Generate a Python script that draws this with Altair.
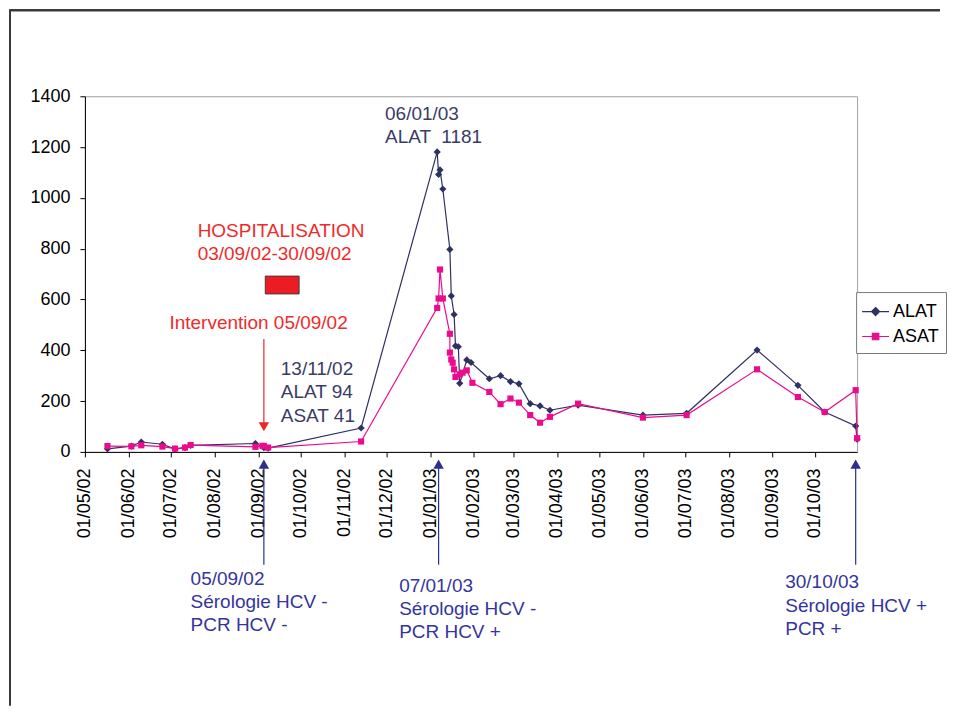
import altair as alt
import pandas as pd

# ---------------- data ----------------
alat_dates = ["2002-05-17", "2002-06-03", "2002-06-10", "2002-06-25", "2002-07-04", "2002-07-11",
              "2002-07-15", "2002-08-30", "2002-09-04", "2002-09-05", "2002-09-08", "2002-11-13",
              "2003-01-06", "2003-01-07", "2003-01-08", "2003-01-10", "2003-01-15", "2003-01-16",
              "2003-01-18", "2003-01-19", "2003-01-21", "2003-01-22", "2003-01-27", "2003-01-30",
              "2003-02-12", "2003-02-20", "2003-02-27", "2003-03-05", "2003-03-13", "2003-03-20",
              "2003-03-27", "2003-04-16", "2003-06-01", "2003-07-02", "2003-08-21", "2003-09-19",
              "2003-10-08", "2003-10-30", "2003-10-31"]
alat_values = [12, 23, 39, 30, 11, 17, 26, 33, 22, 17, 15, 94,
               1181, 1092, 1110, 1035, 797, 614, 541, 417, 414, 270, 362, 352,
               288, 300, 277, 268, 190, 181, 164, 184, 145, 152, 401, 262, 157, 102, 50]

asat_dates = ["2002-05-17", "2002-06-03", "2002-06-10", "2002-06-25", "2002-07-04", "2002-07-11",
              "2002-07-15", "2002-08-30", "2002-09-04", "2002-09-05", "2002-09-08", "2002-11-13",
              "2003-01-06", "2003-01-07", "2003-01-08", "2003-01-10", "2003-01-15", "2003-01-15",
              "2003-01-16", "2003-01-17", "2003-01-18", "2003-01-19", "2003-01-22", "2003-01-24",
              "2003-01-27", "2003-01-31", "2003-02-12", "2003-02-20", "2003-02-27", "2003-03-05",
              "2003-03-13", "2003-03-20", "2003-03-27", "2003-04-16", "2003-06-01", "2003-07-02",
              "2003-08-21", "2003-09-19", "2003-10-08", "2003-10-30", "2003-10-31"]
asat_values = [23, 22, 26, 21, 13, 17, 27, 20, 24, 23, 17, 41,
               567, 604, 718, 604, 465, 391, 364, 351, 325, 295, 305, 312, 321, 272,
               236, 188, 210, 194, 145, 115, 138, 190, 135, 145, 325, 216, 157, 243, 54]

series_names = ["ALAT", "ASAT"]
series_colors = ["#2e3163", "#ec0b8d"]

month_ticks = [(2002, m) for m in range(5, 13)] + [(2003, m) for m in range(1, 11)]
y_ticks = [0, 200, 400, 600, 800, 1000, 1200, 1400]

# annotations (positions in data space)
navy_texts = ["06/01/03", "ALAT \u00a01181", "13/11/02", "ALAT 94", "ASAT 41"]
navy_dates = ["2002-11-30", "2002-11-30", "2002-09-17", "2002-09-17", "2002-09-17"]
navy_values = [1330, 1241, 328, 235, 142]

red_texts = ["HOSPITALISATION", "03/09/02-30/09/02", "Intervention 05/09/02"]
red_dates = ["2002-07-20", "2002-07-20", "2002-06-30"]
red_values = [870, 780, 508]

blue_texts = ["05/09/02", "Sérologie HCV -", "PCR HCV -",
              "07/01/03", "Sérologie HCV -", "PCR HCV +",
              "30/10/03", "Sérologie HCV +", "PCR +"]
blue_dates = ["2002-07-15"] * 3 + ["2002-12-10"] * 3 + ["2003-09-10"] * 3
blue_values = [-499, -590, -680, -527, -617, -708, -514, -605, -699]

hosp_box_start = ["2002-09-06"]
hosp_box_end = ["2002-09-30"]
hosp_box_low = [622]
hosp_box_high = [692]

red_arrow_dates = ["2002-09-05"]
red_arrow_top = [444]
red_arrow_bottom = [110]
red_arrow_head = [99]

blue_arrow_dates = ["2002-09-05", "2003-01-07", "2003-10-30"]
blue_arrow_top = [-48, -48, -48]
blue_arrow_bottom = [-444, -444, -444]

# ---------------- tables ----------------
rows = []
for i, (d, v) in enumerate(zip(alat_dates, alat_values)):
    rows.append({"date": d, "value": v, "series": "ALAT", "idx": i})
for i, (d, v) in enumerate(zip(asat_dates, asat_values)):
    rows.append({"date": d, "value": v, "series": "ASAT", "idx": i})
df = pd.DataFrame(rows)

navy_df = pd.DataFrame({"date": navy_dates, "value": navy_values, "label": navy_texts})
red_df = pd.DataFrame({"date": red_dates, "value": red_values, "label": red_texts})
blue_df = pd.DataFrame({"date": blue_dates, "value": blue_values, "label": blue_texts})
box_df = pd.DataFrame({"date": hosp_box_start, "date2": hosp_box_end,
                       "value": hosp_box_low, "value2": hosp_box_high})
red_arrow_df = pd.DataFrame({"date": red_arrow_dates, "value": red_arrow_top,
                             "value2": red_arrow_bottom, "head": red_arrow_head})
blue_arrow_df = pd.DataFrame({"date": blue_arrow_dates, "value": blue_arrow_top,
                              "value2": blue_arrow_bottom})

# ---------------- scales / axes ----------------
FONT = "Liberation Sans"
x_scale = alt.Scale(type="utc",
                    domain=[alt.DateTime(year=2002, month=5, date=1, utc=True),
                            alt.DateTime(year=2003, month=10, date=31, utc=True)])
y_scale = alt.Scale(domain=[0, 1400], nice=False)
x_axis = alt.Axis(title=None, grid=False,
                  values=[alt.DateTime(year=y, month=m, date=1, utc=True) for y, m in month_ticks],
                  labelExpr="utcFormat(datum.value, '%d/%m/%y')",
                  labelAngle=270, labelPadding=11, tickSize=5, labelOverlap=False,
                  labelFlush=False, labelBound=False)
y_axis = alt.Axis(title=None, grid=False, values=y_ticks, format="d", tickSize=5, labelPadding=10)

def X(field="date"):
    return alt.X(f"{field}:T", scale=x_scale, axis=x_axis)

def Y(field="value"):
    return alt.Y(f"{field}:Q", scale=y_scale, axis=y_axis)

layers = []
for name, color, shape, size in [("ALAT", series_colors[0], "diamond", 52),
                                 ("ASAT", series_colors[1], "square", 38)]:
    base = alt.Chart(df).transform_filter(alt.datum.series == name)
    layers.append(base.mark_line(color=color, strokeWidth=1.2).encode(
        x=X(), y=Y(), order="idx:Q"))
    layers.append(base.mark_point(color=color, shape=shape, filled=True, size=size, opacity=1).encode(
        x=X(), y=Y()))

# hospitalisation box
layers.append(alt.Chart(box_df).mark_rect(fill="#ed1c24", stroke="#3c3c3c", strokeWidth=1).encode(
    x=X(), x2="date2:T", y=Y(), y2="value2:Q"))

# red arrow
layers.append(alt.Chart(red_arrow_df).mark_rule(color="#ea2a2a", strokeWidth=1.2).encode(
    x=X(), y=Y(), y2="value2:Q"))
layers.append(alt.Chart(red_arrow_df).mark_point(shape="triangle-down", filled=True, size=110,
                                                 color="#ea2a2a", opacity=1).encode(
    x=X(), y=Y("head")))

# blue arrows
layers.append(alt.Chart(blue_arrow_df).mark_rule(color="#2c2f8f", strokeWidth=1.2).encode(
    x=X(), y=Y(), y2="value2:Q"))
layers.append(alt.Chart(blue_arrow_df).mark_point(shape="triangle-up", filled=True, size=110,
                                                  color="#2c2f8f", opacity=1).encode(
    x=X(), y=Y()))

# text annotations
for tdf, col in [(navy_df, "#3b3b68"), (red_df, "#ee2b2b"), (blue_df, "#34349e")]:
    layers.append(alt.Chart(tdf).mark_text(align="left", baseline="middle", font=FONT,
                                           fontSize=19, color=col).encode(
        x=X(), y=Y(), text="label:N"))

# legend layer (no marks drawn, only legend)
path_alat = "M-1.17,0L1.17,0M0,-0.35L0.35,0L0,0.35L-0.35,0Z"
path_asat = "M-1.17,0L1.17,0M-0.28,-0.28L0.28,-0.28L0.28,0.28L-0.28,0.28Z"
leg = alt.Legend(title=None, orient="none", legendX=772, legendY=196, padding=7,
                 fillColor="white", strokeColor="#7a7a7a", symbolSize=529,
                 symbolStrokeWidth=1.2, symbolOpacity=1, labelOffset=5, rowPadding=3,
                 labelFont=FONT, labelFontSize=18, labelColor="black")
layers.append(alt.Chart(df).transform_filter(alt.datum.value < -99999).mark_point(filled=True).encode(
    x=X(), y=Y(),
    color=alt.Color("series:N", scale=alt.Scale(domain=series_names, range=series_colors), legend=leg),
    stroke=alt.Stroke("series:N", scale=alt.Scale(domain=series_names, range=series_colors), legend=leg),
    shape=alt.Shape("series:N", scale=alt.Scale(domain=series_names, range=[path_alat, path_asat]), legend=leg),
))

# document frame (decoration)
one = pd.DataFrame({"a": [0]})
layers.append(alt.Chart(one).mark_rule(color="#3a3a3a", strokeWidth=2.5).encode(
    x=alt.value(-75), x2=alt.value(856), y=alt.value(-86)))
layers.append(alt.Chart(one).mark_rule(color="#3a3a3a", strokeWidth=2).encode(
    x=alt.value(-75), y=alt.value(-87), y2=alt.value(610)))

chart = alt.layer(*layers).properties(width=773, height=356, padding=0).configure_view(
    stroke="#a0a0a0", strokeWidth=1
).configure_axis(
    domainColor="black", tickColor="black", labelColor="black",
    labelFont=FONT, labelFontSize=18, domainWidth=1, tickWidth=1
)

chart.save("out.html", embed_options={"renderer": "svg", "actions": False})
